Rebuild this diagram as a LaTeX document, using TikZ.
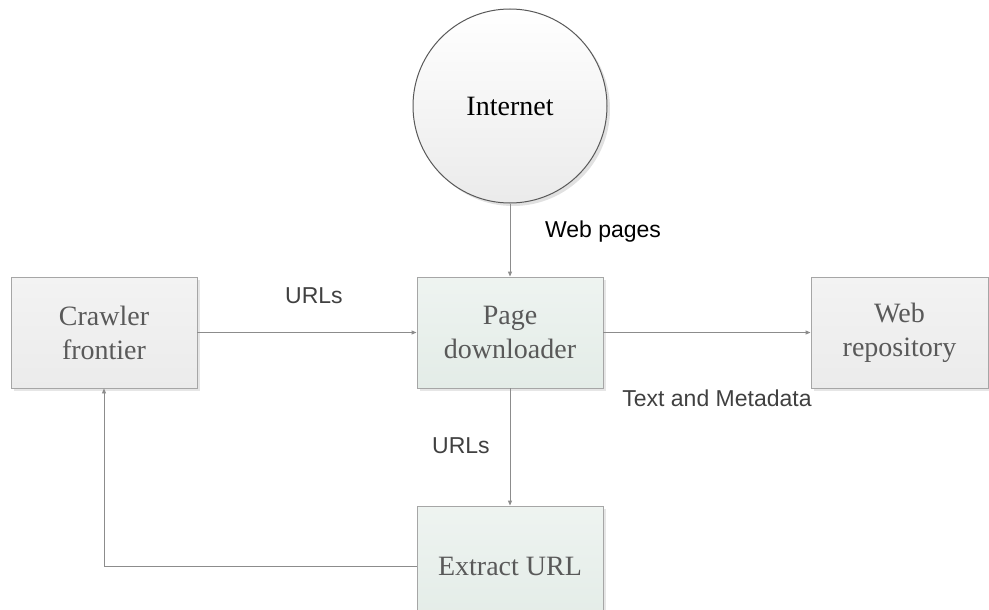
\documentclass[tikz,border=0pt]{standalone}
\usepackage{fontspec}
\setmainfont{Liberation Serif}
\setsansfont{Liberation Sans}
\usetikzlibrary{shadows,arrows.meta}
\definecolor{boxline}{HTML}{A6A6A6}
\definecolor{boxtext}{HTML}{595959}
\definecolor{lineclr}{HTML}{8C8C8C}
\definecolor{lbltext}{HTML}{404040}
\definecolor{circline}{HTML}{595959}
\tikzset{
  procbox/.style={draw=boxline, line width=0.9pt, rectangle,
    top color=#1!60!white, bottom color=#1,
    minimum width=186pt, minimum height=111pt, inner sep=0pt,
    align=center, text=boxtext,
    font=\fontsize{28}{34}\selectfont,
    drop shadow={shadow xshift=3pt, shadow yshift=-3pt, fill=black!12, opacity=0.8}},
  procbox/.default={HTML:F2F2F2},
  conn/.style={draw=lineclr, line width=0.9pt, -{Triangle[length=5pt,width=4pt]}},
  lbl/.style={font=\sffamily\fontsize{23}{27}\selectfont, text=lbltext, inner sep=0pt},
}
\begin{document}
\begin{tikzpicture}[x=1pt,y=-1pt]
\useasboundingbox (0,0) rectangle (989,610);
\definecolor{graybox}{HTML}{EBEBEB}
\definecolor{greenbox}{HTML}{E3ECE7}
% Internet
\node[circle, draw=circline, line width=1pt, minimum size=194pt, inner sep=0pt,
      top color=white, bottom color=black!8,
      drop shadow={shadow xshift=3pt, shadow yshift=-3pt, fill=black!15, opacity=0.8},
      font=\fontsize{28}{34}\selectfont, text=black] (net) at (510,106) {Internet};
% Boxes
\node[procbox=graybox] (crawl) at (104,332.5) {Crawler\\frontier};
\node[procbox=greenbox] (page) at (510,332.5) {Page\\downloader};
\node[procbox=graybox, minimum width=177pt] (repo) at (899.5,332.5) {Web\\repository};
\node[procbox=greenbox, minimum height=120pt] (extract) at (510,566) {Extract URL};
% Connectors
\draw[conn] (net.south) -- (page.north);
\draw[conn] (crawl.east) -- (page.west);
\draw[conn] (page.east) -- (repo.west);
\draw[conn] (page.south) -- (extract.north);
\coordinate (corner) at (crawl.south |- extract.west);
\draw[conn] (extract.west) -- (corner) -- (crawl.south);
% Labels
\node[lbl, text=black] (lweb) at (603,232) {Web pages};
\node[lbl] (lurl1) at (314,296) {URLs};
\node[lbl] (ltext) at (717,398) {Text and Metadata};
\node[lbl] (lurl2) at (461,446) {URLs};
\end{tikzpicture}
\end{document}
